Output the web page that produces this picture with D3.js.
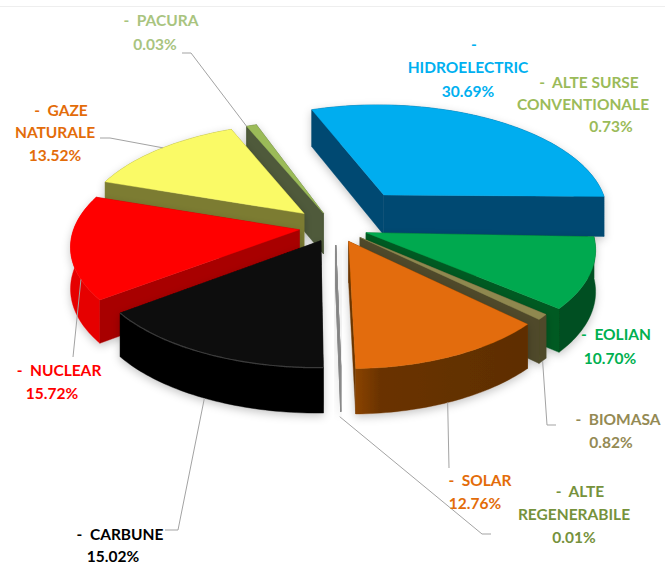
<!DOCTYPE html>
<html><head><meta charset="utf-8">
<script src="https://cdnjs.cloudflare.com/ajax/libs/d3/7.8.5/d3.min.js"></script>
<style>html,body{margin:0;padding:0;background:#fff}svg{display:block}text{font-family:Lato,"Open Sans",sans-serif;font-weight:700}</style>
</head><body><svg id="c" width="665" height="565"></svg>
<script>
// ---- data (clockwise from the top-left of the blue slice) ----
const names  = ["HIDROELECTRIC","ALTE SURSE CONVENTIONALE","EOLIAN","BIOMASA","SOLAR","ALTE REGENERABILE","CARBUNE","NUCLEAR","GAZE NATURALE","PACURA"];
const values = [30.69,0.73,10.70,0.82,12.76,0.01,15.02,15.72,13.52,0.03];
// share added so that the sliver is as wide as it appears in the picture
const sliverExtra = [0,0,0,0,0,0,0,0,0,0.8];
const labelColors = ["#00B0F0","#9BBB59","#00B050","#948A54","#E36C09","#76923C","#000000","#FF0000","#E36C09","#A9C47F"];
const topColors   = ["#00ADEF","#9BBB59","#00A94F","#8F8850","#E36C09","#6a6a50","#0E0E0E","#FF0000","#FAFA66","#9BBB59"];
const radialColors= ["#004A72","#4f5f2d","#005A24","#4F4A2A","#6B3500","#808080","#060606","#A80000","#7B7B32","#4F5A3A"];
const rimColors   = ["#00476E","#4f5f2d","#004F20","#4F4A2A","#743800","#808080","#050505","#E60000","#7B7B32","#4F5A3A"];
const explode     = [88,60,33,33,33,38,32,36,43,32];
const xFactor     = [1.02,0.85,1,0.96,0.96,1,1,1,1,1.03];
const yFactor     = [1.07,0.9,1,1,1,0.95,1,1,1.02,1.06];
const sweepExtra  = [1.2,0,0,0,0,0,0,0,0,0]; // degrees of extra sweep seen in the picture
const drawOrder   = [1,9,0,2,3,8,7,5,6,4];

// ---- layout ----
const W=665,H=565,cx=335,cy=227,R=225,Ry=105,persp=0.14,depth=41,rot=-20*Math.PI/180;
const svg=d3.select("#c");
const xS=d3.scaleLinear().domain([-1,1]).range([cx-R,cx+R]);
const yS=d3.scaleLinear().domain([-1,1]).range([cy-Ry,cy+Ry]);
const line=d3.line().x(d=>d[0]).y(d=>d[1]);
const arcs=d3.pie().sort(null).startAngle(rot).endAngle(rot+2*Math.PI)
  .value((d,i)=>d+sliverExtra[i])(values);
arcs.forEach((a,i)=>{a.endAngle+=sweepExtra[i]*Math.PI/180;});

function ground(i,ang,r){ const a=arcs[i],m=(a.startAngle+a.endAngle)/2,e=explode[i]/R;
  return [e*Math.sin(m)+xFactor[i]*r*Math.sin(ang), -e*Math.cos(m)-yFactor[i]*r*Math.cos(ang)]; }
function proj(g,down){ const w=1-persp*g[1];
  return [xS(g[0]/w), yS(g[1]/w)+(down?depth*Math.pow(w,-0.6):0)]; }
function P(i,ang,r,down){ return proj(ground(i,ang,r),down); }

const defs=svg.append("defs");
const f=defs.append("filter").attr("id","sh").attr("x","-20%").attr("y","-20%").attr("width","140%").attr("height","140%");
f.append("feDropShadow").attr("dx",0).attr("dy",3).attr("stdDeviation",4).attr("flood-color","#000").attr("flood-opacity",0.22);
const g4=defs.append("linearGradient").attr("id","solarRim").attr("x1",0).attr("x2",1).attr("y1",0).attr("y2",0);
g4.append("stop").attr("offset",0).attr("stop-color","#8A4300");
g4.append("stop").attr("offset",0.14).attr("stop-color","#6A3300");
g4.append("stop").attr("offset",1).attr("stop-color","#5E2E00");

// faint frame line
svg.append("line").attr("x1",0).attr("x2",W).attr("y1",6.5).attr("y2",6.5).attr("stroke","#eeeeee");

const pie=svg.append("g");
drawOrder.forEach(i=>{
  const a=arcs[i],g=pie.append("g").attr("filter","url(#sh)");
  const n=Math.max(2,Math.ceil((a.endAngle-a.startAngle)/0.02));
  const angs=d3.range(n+1).map(k=>a.startAngle+(a.endAngle-a.startAngle)*k/n);
  const faces=[
    {pts:[P(i,a.startAngle,0),P(i,a.startAngle,1),P(i,a.startAngle,1,1),P(i,a.startAngle,0,1)],c:radialColors[i],v:ground(i,a.startAngle,.5)[1]},
    {pts:[P(i,a.endAngle,0),P(i,a.endAngle,1),P(i,a.endAngle,1,1),P(i,a.endAngle,0,1)],c:radialColors[i],v:ground(i,a.endAngle,.5)[1]},
    {pts:angs.map(t=>P(i,t,1)).concat(angs.slice().reverse().map(t=>P(i,t,1,1))),c:i===4?"url(#solarRim)":rimColors[i],v:ground(i,(a.startAngle+a.endAngle)/2,.6)[1]}
  ].sort((p,q)=>p.v-q.v);
  const thin=(a.endAngle-a.startAngle)<0.01;
  faces.forEach(fc=>g.append("path").attr("d",line(fc.pts)+"Z").attr("fill",fc.c)
    .attr("stroke",thin?"#8a8a8a":fc.c).attr("stroke-width",thin?1:0.4));
  g.append("path").attr("d",line([P(i,a.startAngle,0)].concat(angs.map(t=>P(i,t,1))))+"Z")
    .attr("fill",topColors[i]).attr("stroke",thin?"#8a8a8a":topColors[i]).attr("stroke-width",thin?1:0.4);
  if(i===6) g.append("path").attr("d",line(angs.map(t=>P(i,t,1)))).attr("fill","none").attr("stroke","#3a3a3a").attr("stroke-width",1.2);
});

// ---- leader lines: anchored on a slice (fraction along its rim, on top or wall foot), then elbows ----
const leaders=[
 {i:9,t:0,low:0,pts:[[191,53],[182,53]]},
 {i:8,t:0.53,low:0,pts:[[110,138],[100,138]]},
 {i:4,t:0.53,low:1,pts:[[449,468]]},
 {i:3,t:0.5,low:1,pts:[[547,425],[556,425]]},
 {i:5,t:0.5,low:1,pts:[[482,534],[491,534]],off:[-1,5]},
 {i:7,t:0.2,low:0,pts:[[73,357]],off:[0,0]},
 {i:6,t:0.5,low:1,pts:[[178,530],[165,530]]}
];
leaders.forEach(l=>{const a=arcs[l.i],t=a.startAngle+(a.endAngle-a.startAngle)*l.t,p=P(l.i,t,1,l.low),o=l.off||[0,0];
  svg.append("path").attr("d",line([[p[0]+o[0],p[1]+o[1]]].concat(l.pts))).attr("fill","none").attr("stroke","#a3a3a3").attr("stroke-width",1);
});

// ---- labels ----
const labels=[
 {i:9,lines:[["-  PACURA",26],["0.03%",50]],xs:[161,155]},
 {i:8,lines:[["-  GAZE",116],["NATURALE",138],["13.52%",161]],xs:[61,55,55]},
 {i:0,lines:[["-",50],["HIDROELECTRIC",73],["30.69%",97]],xs:[474,468,468]},
 {i:1,lines:[["-  ALTE SURSE",88],["CONVENTIONALE",110],["0.73%",132]],xs:[589,583,611]},
 {i:2,lines:[["-  EOLIAN",340],["10.70%",364]],xs:[616,610]},
 {i:3,lines:[["-  BIOMASA",425],["0.82%",448]],xs:[618,611]},
 {i:4,lines:[["-  SOLAR",486],["12.76%",509]],xs:[480,475]},
 {i:5,lines:[["-  ALTE",497],["REGENERABILE",520],["0.01%",543]],xs:[580,574,574]},
 {i:7,lines:[["-  NUCLEAR",376],["15.72%",399]],xs:[59,52]},
 {i:6,lines:[["-  CARBUNE",540],["15.02%",561.5]],xs:[120,113]}
];
labels.forEach(l=>l.lines.forEach((ln,k)=>{
  svg.append("text").attr("x",l.xs[k]).attr("y",ln[1]).attr("text-anchor","middle")
   .attr("font-size",15.5).attr("fill",labelColors[l.i]).attr("xml:space","preserve").style("white-space","pre").text(ln[0]);
}));
</script></body></html>
